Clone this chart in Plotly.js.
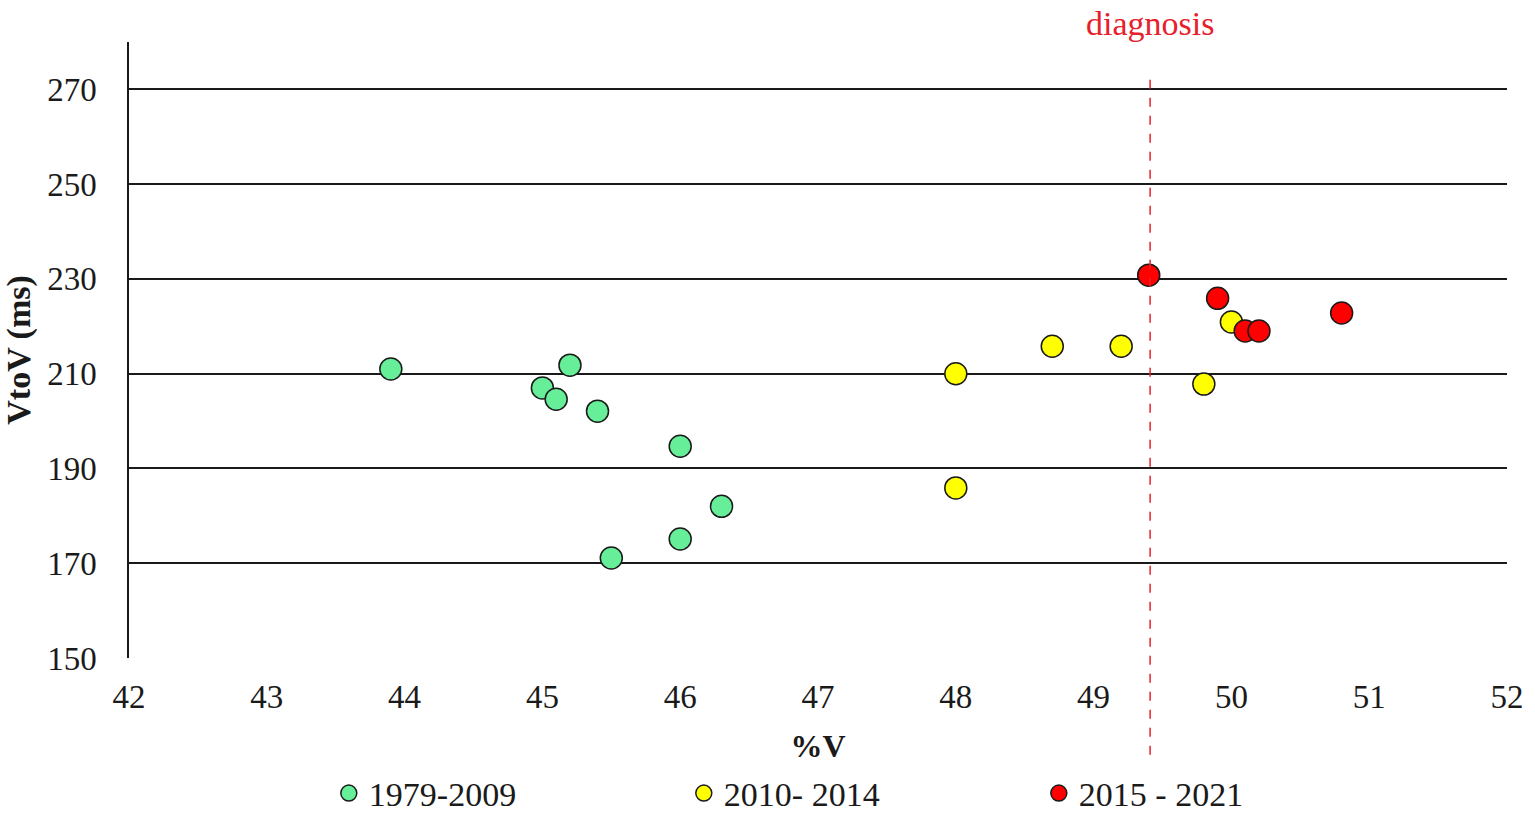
<!DOCTYPE html>
<html>
<head>
<meta charset="utf-8">
<script src="https://cdn.plot.ly/plotly-3.0.1.min.js"></script>
<style>
  html, body { margin: 0; padding: 0; background: #ffffff; }
  #chart { width: 1535px; height: 814px; }
</style>
</head>
<body>
<div id="chart"></div>
<script>
// data
const SERIES_NAMES = ['1979-2009', '2010- 2014', '2015 - 2021'];

const greenX = [43.9, 45.0, 45.1, 45.2, 45.4, 46.0, 46.3, 46.0, 45.5];
const greenY = [211, 207, 204.6, 211.8, 202.1, 194.7, 182, 175.1, 171.1];

const yellowX = [48.0, 48.7, 49.2, 48.0, 50.0, 49.8];
const yellowY = [210, 215.8, 215.8, 185.9, 220.9, 207.8];

const redX = [49.4, 49.9, 50.1, 50.2, 50.8];
const redY = [230.8, 225.9, 219, 219, 222.8];

const DIAGNOSIS_X = 49.41;
const DIAGNOSIS_LABEL = 'diagnosis';

const FONT = '"Liberation Serif", "Times New Roman", serif';
const INK = '#1a1a1a';

function _series(x, y, name, color) {
  return {
    x: x, y: y, name: name,
    type: 'scatter', mode: 'markers',
    marker: { color: color, size: 22, line: { color: INK, width: 1.5 } },
    cliponaxis: false,
  };
}

const traces = [
  _series(greenX, greenY, SERIES_NAMES[0], '#66ee99'),
  _series(yellowX, yellowY, SERIES_NAMES[1], '#ffff00'),
  _series(redX, redY, SERIES_NAMES[2], '#ff0000'),
];

const layout = {
  width: 1535, height: 814,
  margin: { t: 42, r: 28, b: 156, l: 129, autoexpand: false },
  paper_bgcolor: '#ffffff',
  plot_bgcolor: '#ffffff',
  font: { family: FONT, size: 33, color: INK },
  showlegend: true,
  legend: {
    orientation: 'h',
    x: 0.145, xanchor: 'left',
    y: -0.22, yanchor: 'middle',
    entrywidth: 310, entrywidthmode: 'pixels',
    font: { family: FONT, size: 34, color: INK },
    itemwidth: 30,
    traceorder: 'normal',
  },
  xaxis: {
    range: [42, 52], dtick: 1, tick0: 42,
    automargin: false,
    showgrid: false, zeroline: false,
    showline: false, ticks: '',
    ticklabelstandoff: 16,
    tickfont: { family: FONT, size: 33, color: INK },
    title: { text: '<b>%V</b>', font: { family: FONT, size: 32, color: INK }, standoff: 20 },
  },
  yaxis: {
    range: [150, 280], tick0: 150, dtick: 20,
    automargin: false,
    showgrid: true, gridcolor: INK, gridwidth: 1.5,
    zeroline: false,
    showline: true, linecolor: INK, linewidth: 1.5,
    ticks: '',
    ticklabelstandoff: 24,
    tickfont: { family: FONT, size: 33, color: INK },
    title: { text: '<b>VtoV (ms)</b>', font: { family: FONT, size: 34, color: INK }, standoff: 8 },
  },
  shapes: [
    {
      type: 'line', xref: 'x', yref: 'paper',
      x0: DIAGNOSIS_X, x1: DIAGNOSIS_X, y0: -0.157, y1: 0.951,
      line: { color: '#e8202a', width: 1.5, dash: 'dash' },
    },
  ],
  annotations: [
    {
      x: DIAGNOSIS_X, xref: 'x', y: 1.03, yref: 'paper',
      text: DIAGNOSIS_LABEL, showarrow: false,
      xanchor: 'center', yanchor: 'middle',
      font: { family: FONT, size: 34, color: '#e8202a' },
    },
  ],
};

Plotly.newPlot('chart', traces, layout, { displayModeBar: false, responsive: false });
</script>
</body>
</html>
